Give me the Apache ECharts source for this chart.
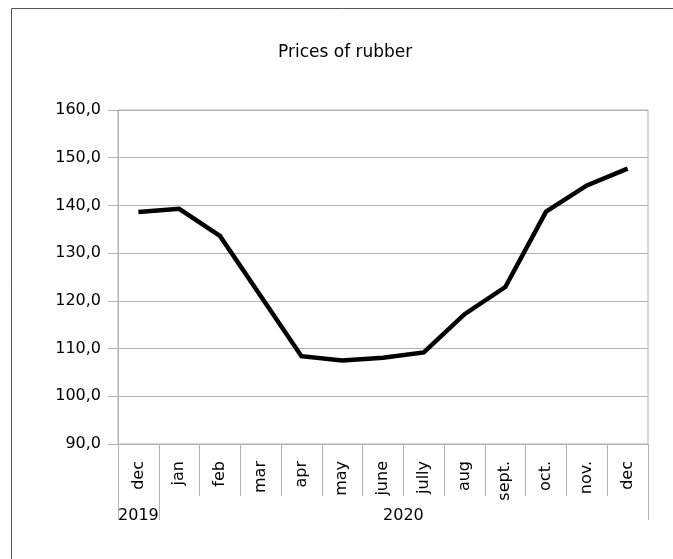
<!DOCTYPE html>
<html>
<head>
<meta charset="utf-8">
<script src="https://cdn.jsdelivr.net/npm/echarts@6/dist/echarts.min.js"></script>
<style>
html,body{margin:0;padding:0;background:#fff;}
#chart{width:673px;height:559px;}
</style>
</head>
<body>
<div id="chart"></div>
<script>
const title = 'Prices of rubber';
const months = ['dec','jan','feb','mar','apr','may','june','jully','aug','sept.','oct.','nov.','dec'];
const prices = [138.6, 139.3, 133.6, 121.0, 108.4, 107.5, 108.1, 109.2, 117.2, 122.9, 138.7, 144.2, 147.7];
const years = ['2019', '2020'];
const yearBounds = [0, 1, 13];
const yTicks = [90, 100, 110, 120, 130, 140, 150, 160];

const FONT = 'DejaVu Sans';
const chart = echarts.init(document.getElementById('chart'), null, {renderer: 'canvas'});
const yearCenters = years.map((y, i) => (yearBounds[i] + yearBounds[i + 1]) / 2);

chart.setOption({
  backgroundColor: '#ffffff',
  animation: false,
  title: {
    text: title,
    left: 273,
    top: 39,
    textStyle: {fontFamily: FONT, fontSize: 17, fontWeight: 'normal', color: '#000'}
  },
  graphic: [{
    type: 'rect',
    shape: {x: 11.5, y: 8.5, width: 720, height: 620},
    style: {fill: 'none', stroke: '#555555', lineWidth: 1},
    silent: true
  }],
  grid: {
    left: 118, right: 25, top: 110, bottom: 115,
    show: true, borderColor: '#b3b3b3', borderWidth: 1, backgroundColor: 'transparent'
  },
  xAxis: [{
    type: 'category',
    data: months,
    boundaryGap: true,
    axisLine: {show: true, lineStyle: {color: '#b3b3b3', width: 1}},
    axisTick: {show: true, length: 52, lineStyle: {color: '#b3b3b3', width: 1}},
    axisLabel: {
      interval: 0, rotate: 90, margin: 17,
      fontFamily: FONT, fontSize: 16, color: '#000'
    },
    splitLine: {show: false}
  }, {
    type: 'value',
    position: 'bottom',
    min: yearBounds[0],
    max: yearBounds[yearBounds.length - 1],
    axisLine: {show: false},
    axisTick: {show: true, length: 76, customValues: yearBounds, lineStyle: {color: '#b3b3b3', width: 1}},
    axisLabel: {
      show: true, margin: 64, customValues: yearCenters,
      formatter: function (v) {
        const i = yearCenters.indexOf(v);
        return i >= 0 ? years[i] : '';
      },
      fontFamily: FONT, fontSize: 16, color: '#000'
    },
    splitLine: {show: false}
  }],
  yAxis: {
    type: 'value',
    min: yTicks[0],
    max: yTicks[yTicks.length - 1],
    interval: 10,
    axisLine: {show: true, lineStyle: {color: '#b3b3b3', width: 1}},
    axisTick: {show: true, length: 10, lineStyle: {color: '#b3b3b3', width: 1}},
    axisLabel: {
      margin: 17,
      formatter: function (v) { return v.toFixed(1).replace('.', ','); },
      fontFamily: FONT, fontSize: 16, color: '#000'
    },
    splitLine: {show: true, lineStyle: {color: '#b3b3b3', width: 1}}
  },
  series: [{
    type: 'line',
    xAxisIndex: 0,
    data: prices,
    showSymbol: false,
    symbol: 'none',
    lineStyle: {color: '#000', width: 4.5, join: 'miter'},
    itemStyle: {color: '#000'}
  }]
});
</script>
</body>
</html>
